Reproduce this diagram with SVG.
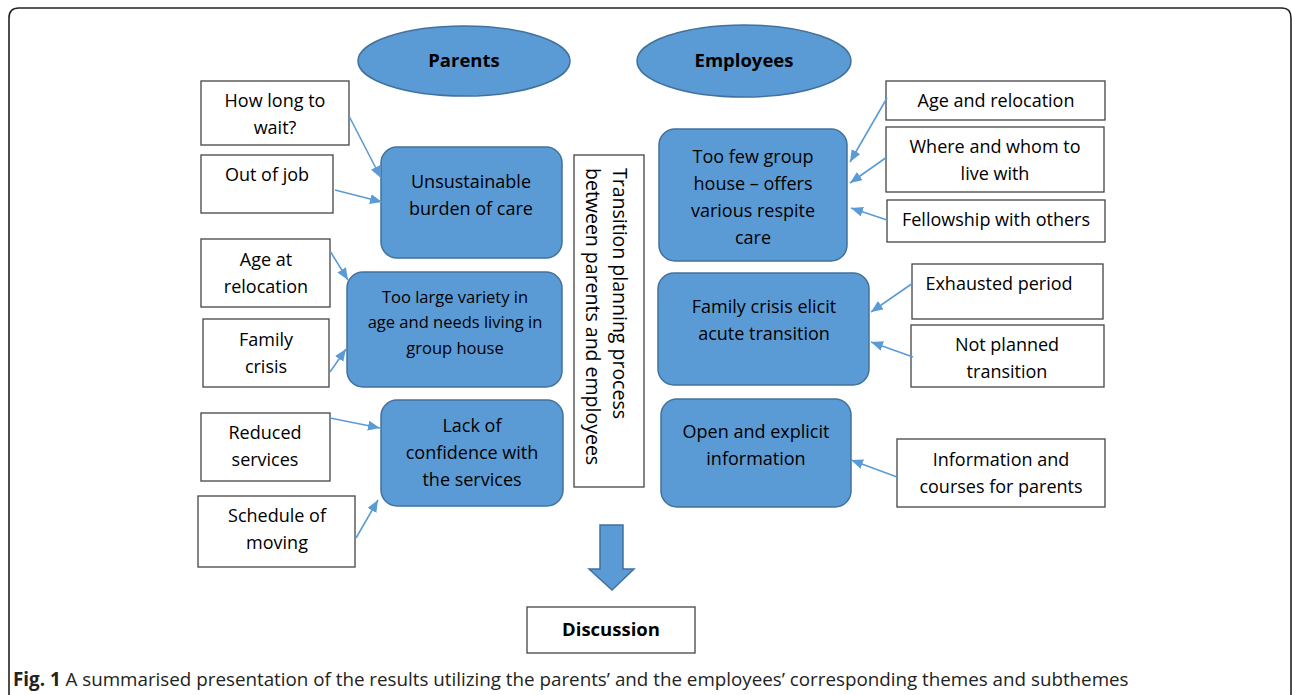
<svg xmlns="http://www.w3.org/2000/svg" width="1292" height="695" viewBox="0 0 1292 695">
<style>
.frame{fill:none;stroke:#222;stroke-width:1.6}
.box{fill:#fff;stroke:#444;stroke-width:1.3}
.theme{fill:#5b9bd5;stroke:#41719c;stroke-width:1.5}
.t{font-family:"Open Sans","DejaVu Sans",sans-serif;font-size:18px;fill:#000;text-anchor:middle}
.s{font-size:16.5px}
.b{font-weight:bold;font-size:18.5px}
.r{font-size:19.5px;text-anchor:start}
.con{stroke:#5b9bd5;stroke-width:1.6;fill:none;marker-end:url(#ah)}
.cap{font-family:"Open Sans","DejaVu Sans",sans-serif;font-size:18.8px;fill:#222}
</style>
<defs>
<marker id="ah" markerUnits="userSpaceOnUse" markerWidth="14" markerHeight="12" refX="12" refY="5" orient="auto">
<path d="M0,0 L12,5 L0,10 Z" fill="#5b9bd5"/>
</marker>
</defs>
<path class="frame" d="M9,700 L9,18 Q9,8 19,8 L1282,8 Q1291,8 1291,18 L1291,700"/>

<g id="parents"><ellipse class="theme" cx="464" cy="61" rx="106" ry="35"/><text class="t b" x="464" y="67">Parents</text></g>
<g id="employees"><ellipse class="theme" cx="744" cy="61" rx="107" ry="36"/><text class="t b" x="744" y="67">Employees</text></g>

<g id="how-long"><rect class="box" x="201" y="81" width="148" height="64"/><text class="t" x="275" y="107">How long to</text><text class="t" x="275" y="134">wait?</text></g>
<g id="out-of-job"><rect class="box" x="201" y="155" width="132" height="58"/><text class="t" x="267" y="181">Out of job</text></g>
<g id="unsustainable"><rect class="theme" x="381" y="147" width="181" height="111" rx="16"/><text class="t" x="471" y="188">Unsustainable</text><text class="t" x="471" y="215">burden of care</text></g>
<g id="age-at-relocation"><rect class="box" x="201" y="239" width="129" height="68"/><text class="t" x="266" y="266">Age at</text><text class="t" x="266" y="293">relocation</text></g>
<g id="family-crisis"><rect class="box" x="203" y="319" width="126" height="68"/><text class="t" x="266" y="346">Family</text><text class="t" x="266" y="373">crisis</text></g>
<g id="too-large"><rect class="theme" x="347" y="272" width="215" height="115" rx="16"/><text class="t s" x="455" y="303">Too large variety in</text><text class="t s" x="455" y="328">age and needs living in</text><text class="t s" x="455" y="354">group house</text></g>
<g id="reduced"><rect class="box" x="201" y="413" width="129" height="68"/><text class="t" x="265" y="439">Reduced</text><text class="t" x="265" y="466">services</text></g>
<g id="schedule"><rect class="box" x="198" y="496" width="157" height="71"/><text class="t" x="277" y="522">Schedule of</text><text class="t" x="277" y="549">moving</text></g>
<g id="lack"><rect class="theme" x="381" y="400" width="182" height="106" rx="16"/><text class="t" x="472" y="432">Lack of</text><text class="t" x="472" y="459">confidence with</text><text class="t" x="472" y="486">the services</text></g>

<g id="transition"><rect class="box" x="574" y="155" width="70" height="332"/><text class="t r" transform="translate(620,168) rotate(90)" x="0" y="7">Transition planning process</text><text class="t r" transform="translate(593,168) rotate(90)" x="0" y="7">between parents and employees</text></g>

<g id="age-relocation"><rect class="box" x="886" y="81" width="219" height="39"/><text class="t" x="996" y="107">Age and relocation</text></g>
<g id="where-whom"><rect class="box" x="886" y="127" width="218" height="65"/><text class="t" x="995" y="153">Where and whom to</text><text class="t" x="995" y="180">live with</text></g>
<g id="fellowship"><rect class="box" x="887" y="200" width="218" height="42"/><text class="t" x="996" y="226">Fellowship with others</text></g>
<g id="too-few"><rect class="theme" x="659" y="129" width="188" height="132" rx="16"/><text class="t" x="753" y="163">Too few group</text><text class="t" x="753" y="190">house – offers</text><text class="t" x="753" y="217">various respite</text><text class="t" x="753" y="244">care</text></g>
<g id="exhausted"><rect class="box" x="912" y="264" width="191" height="55"/><text class="t" x="999" y="290">Exhausted period</text></g>
<g id="not-planned"><rect class="box" x="911" y="325" width="193" height="62"/><text class="t" x="1007" y="351">Not planned</text><text class="t" x="1007" y="378">transition</text></g>
<g id="family-crisis-elicit"><rect class="theme" x="658" y="273" width="211" height="112" rx="16"/><text class="t" x="764" y="313">Family crisis elicit</text><text class="t" x="764" y="340">acute transition</text></g>
<g id="open-explicit"><rect class="theme" x="661" y="399" width="190" height="108" rx="16"/><text class="t" x="756" y="438">Open and explicit</text><text class="t" x="756" y="465">information</text></g>
<g id="information"><rect class="box" x="897" y="439" width="208" height="68"/><text class="t" x="1001" y="466">Information and</text><text class="t" x="1001" y="493">courses for parents</text></g>

<g id="down-arrow"><path class="theme" d="M600,525 L623,525 L623,569 L634,569 L612,590 L589,569 L600,569 Z"/></g>
<g id="discussion"><rect class="box" x="527" y="607" width="168" height="46"/><text class="t b" x="611" y="636">Discussion</text></g>

<g id="connectors">
<line class="con" x1="349" y1="116" x2="381" y2="178"/>
<line class="con" x1="335" y1="190" x2="382" y2="202"/>
<line class="con" x1="330" y1="251" x2="348" y2="280"/>
<line class="con" x1="330" y1="372" x2="346" y2="349"/>
<line class="con" x1="330" y1="418" x2="380" y2="428"/>
<line class="con" x1="356" y1="538" x2="378" y2="500"/>
<line class="con" x1="887" y1="98" x2="850" y2="162"/>
<line class="con" x1="887" y1="157" x2="850" y2="183"/>
<line class="con" x1="887" y1="220" x2="851" y2="208"/>
<line class="con" x1="913" y1="283" x2="871" y2="312"/>
<line class="con" x1="913" y1="357" x2="871" y2="342"/>
<line class="con" x1="897" y1="477" x2="851" y2="460"/>
</g>

<text class="cap" x="13" y="686"><tspan font-weight="bold">Fig. 1</tspan> A summarised presentation of the results utilizing the parents’ and the employees’ corresponding themes and subthemes</text>
</svg>
